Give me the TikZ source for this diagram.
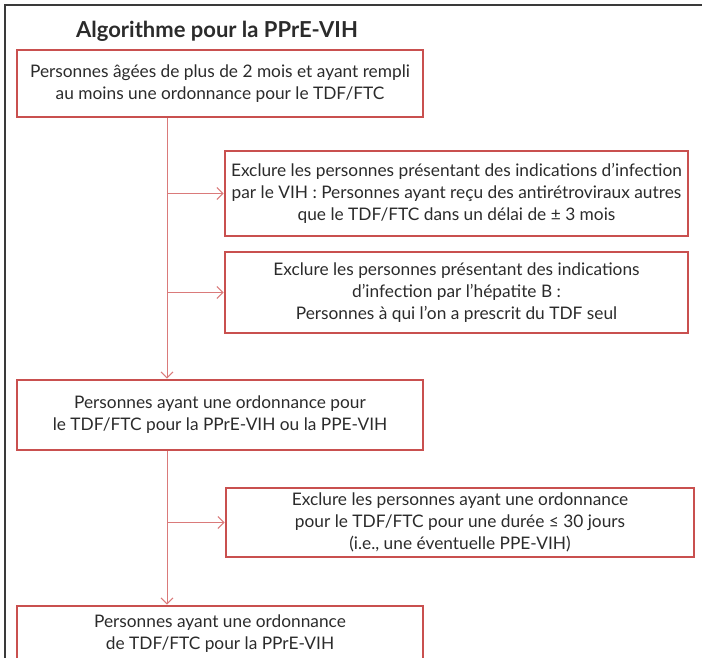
\documentclass[tikz,border=0pt]{standalone}
\usepackage{fontspec}
\setmainfont{Lato}
\usetikzlibrary{arrows.meta}
\definecolor{boxred}{HTML}{C9504F}
\definecolor{linkred}{HTML}{DA7A7A}
\definecolor{txt}{HTML}{2B2B2B}
\definecolor{frame}{HTML}{3A3A3A}
\begin{document}
\begin{tikzpicture}[x=1pt,y=-1pt,
  stepbox/.style={draw=boxred, line width=2.8pt, text=txt, align=center,
    inner sep=0pt, font=\fontsize{17.3}{22}\selectfont},
  link/.style={draw=linkred, line width=1pt,
    -{Straight Barb[length=6pt,width=12pt,line width=1pt]}}]
\useasboundingbox (0,0) rectangle (702,657);
% outer frame (top and left edges only in view)
\draw[frame, line width=2pt] (5,680) -- (5,5) -- (720,5);
% title
\node[text=txt, font=\fontsize{22}{26}\selectfont\bfseries] (title) at (217,31) {Algorithme pour la PPrE-VIH};
% boxes
\node[stepbox, minimum width=406pt, minimum height=67pt] (b1) at (220,83.5)
  {Personnes âgées de plus de 2 mois et ayant rempli\\au moins une ordonnance pour le TDF/FTC};
\node[stepbox, minimum width=463pt, minimum height=85pt] (b2) at (456.5,193.5)
  {Exclure les personnes présentant des indications d’infection\\par le VIH : Personnes ayant reçu des antirétroviraux autres\\que le TDF/FTC dans un délai de ± 3 mois};
\node[stepbox, minimum width=463pt, minimum height=81pt] (b3) at (456.5,292.5)
  {Exclure les personnes présentant des indications\\d’infection par l’hépatite B :\\Personnes à qui l’on a prescrit du TDF seul};
\node[stepbox, minimum width=406pt, minimum height=70pt] (b4) at (220,415)
  {Personnes ayant une ordonnance pour\\le TDF/FTC pour la PPrE-VIH ou la PPE-VIH};
\node[stepbox, minimum width=468pt, minimum height=69pt] (b5) at (460,522.5)
  {Exclure les personnes ayant une ordonnance\\pour le TDF/FTC pour une durée ≤ 30 jours\\(i.e., une éventuelle PPE-VIH)};
\node[stepbox, minimum width=406pt, minimum height=56pt] (b6) at (220,634)
  {Personnes ayant une ordonnance\\de TDF/FTC pour la PPrE-VIH};
% trunk position
\coordinate (trunk) at (167,117);
% connectors
\draw[link] (b1.south -| trunk) -- (b4.north -| trunk);
\draw[link] (b2.west -| trunk) -- (b2.west);
\draw[link] (b3.west -| trunk) -- (b3.west);
\draw[link] (b4.south -| trunk) -- (b6.north -| trunk);
\draw[link] (b5.west -| trunk) -- (b5.west);
\end{tikzpicture}
\end{document}
